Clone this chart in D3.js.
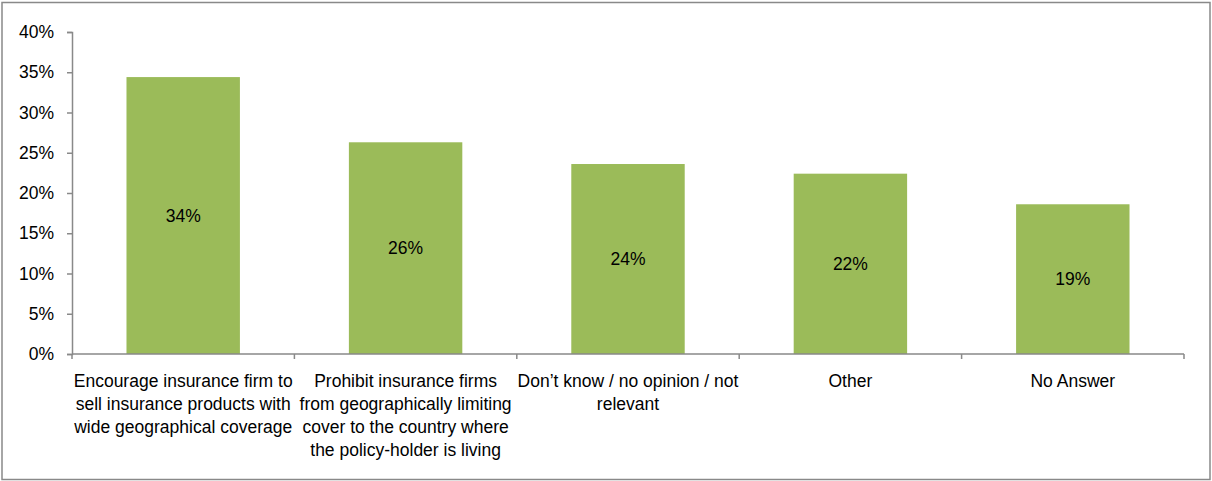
<!DOCTYPE html>
<html>
<head>
<meta charset="utf-8">
<script src="https://cdn.jsdelivr.net/npm/d3@7"></script>
<style>
  html, body { margin: 0; padding: 0; background: #fff; }
  svg { display: block; font-family: "Liberation Sans", Arial, sans-serif; }
</style>
</head>
<body>
<svg id="chart" width="1212" height="481"></svg>
<script>
// Survey answers (share of respondents)
const categories = [
  "Encourage insurance firm to sell insurance products with wide geographical coverage",
  "Prohibit insurance firms from geographically limiting cover to the country where the policy-holder is living",
  "Don’t know / no opinion / not relevant",
  "Other",
  "No Answer"
];
const categoryLines = [
  ["Encourage insurance firm to", "sell insurance products with", "wide geographical coverage"],
  ["Prohibit insurance firms", "from geographically limiting", "cover to the country where", "the policy-holder is living"],
  ["Don’t know / no opinion / not", "relevant"],
  ["Other"],
  ["No Answer"]
];
const values = [0.344, 0.263, 0.236, 0.224, 0.186];
const yTicks = [0, 0.05, 0.10, 0.15, 0.20, 0.25, 0.30, 0.35, 0.40];

const svg = d3.select("#chart");
const W = 1212, H = 481;
const margin = { left: 72, right: 28, top: 32, bottom: 127 };
const axisColor = "#898989";
const barColor = "#9BBB59";
const fontSize = 17.5;

// Outer frame
svg.append("rect")
  .attr("x", 2).attr("y", 2.5)
  .attr("width", W - 4).attr("height", H - 4)
  .attr("fill", "#fff")
  .attr("stroke", axisColor).attr("stroke-width", 1.5);

const x = d3.scaleBand()
  .domain(categories)
  .range([margin.left, W - margin.right])
  .paddingInner(0.49).paddingOuter(0.245);

const y = d3.scaleLinear()
  .domain([0, 0.40])
  .range([H - margin.bottom, margin.top]);

// Bars
svg.append("g").selectAll("rect")
  .data(values)
  .join("rect")
  .attr("x", (d, i) => x(categories[i]))
  .attr("y", d => y(d))
  .attr("width", x.bandwidth())
  .attr("height", d => y(0) - y(d))
  .attr("fill", barColor);

// Value labels centred in each bar
svg.append("g").selectAll("text")
  .data(values)
  .join("text")
  .attr("x", (d, i) => x(categories[i]) + x.bandwidth() / 2)
  .attr("y", d => (y(d) + y(0)) / 2)
  .attr("dy", "0.35em")
  .attr("text-anchor", "middle")
  .attr("font-size", fontSize)
  .attr("fill", "#000")
  .text(d => d3.format(".0%")(d));

// Y axis
const yAxis = d3.axisLeft(y)
  .tickValues(yTicks)
  .tickFormat(d3.format(".0%"))
  .tickSize(5)
  .tickPadding(13);
const gy = svg.append("g")
  .attr("transform", `translate(${margin.left},0)`)
  .call(yAxis);
gy.select(".domain").attr("stroke", axisColor).attr("stroke-width", 1.5);
gy.selectAll(".tick line").attr("stroke", axisColor).attr("stroke-width", 1.5);
gy.selectAll(".tick text")
  .attr("font-size", fontSize)
  .attr("font-family", "Liberation Sans, Arial, sans-serif")
  .attr("fill", "#000");

// X axis: baseline with tick marks at band boundaries
const step = x.step();
const x0 = margin.left;
const bounds = d3.range(categories.length + 1).map(i => x0 + i * step);
const gx = svg.append("g");
gx.append("line")
  .attr("x1", x0).attr("x2", bounds[bounds.length - 1])
  .attr("y1", y(0)).attr("y2", y(0))
  .attr("stroke", axisColor).attr("stroke-width", 1.5);
gx.selectAll("line.tick")
  .data(bounds)
  .join("line")
  .attr("class", "tick")
  .attr("x1", d => d).attr("x2", d => d)
  .attr("y1", y(0)).attr("y2", y(0) + 5)
  .attr("stroke", axisColor).attr("stroke-width", 1.5);

// Category labels, wrapped across lines
const lineH = 23;
gx.selectAll("text.cat")
  .data(categoryLines)
  .join("text")
  .attr("class", "cat")
  .attr("text-anchor", "middle")
  .attr("font-size", fontSize)
  .attr("fill", "#000")
  .each(function(lines, i) {
    const cx = x(categories[i]) + x.bandwidth() / 2;
    d3.select(this).selectAll("tspan")
      .data(lines)
      .join("tspan")
      .attr("x", cx)
      .attr("y", (l, j) => y(0) + 27 + j * lineH + 6)
      .text(l => l);
  });
</script>
</body>
</html>
